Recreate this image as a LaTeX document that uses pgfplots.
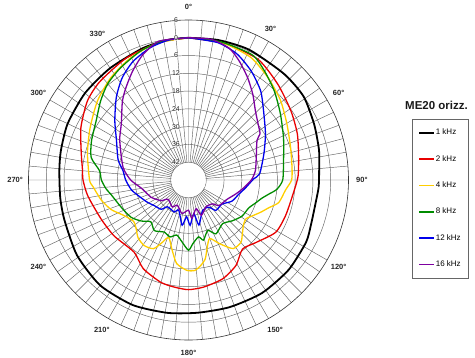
\documentclass[border=0pt]{standalone}
\usepackage{fontspec}
\setmainfont{Liberation Sans}
\usepackage{pgfplots}
\pgfplotsset{compat=1.18}
\usepgfplotslibrary{polar}
\usepackage{pgfplotstable}
\definecolor{cBlack}{RGB}{0,0,0}
\definecolor{cRed}{RGB}{232,0,0}
\definecolor{cYellow}{RGB}{255,206,0}
\definecolor{cGreen}{RGB}{0,140,0}
\definecolor{cBlue}{RGB}{0,0,235}
\definecolor{cPurple}{RGB}{125,0,160}
\begin{document}
\pgfplotstableread[row sep=\\]{
a db\\
0 0\\ 12 0.3\\ 25 0.5\\ 42 0.2\\ 54 0\\ 66 -1.6\\ 77 -2.8\\ 86 -3.8\\ 93 -4.0\\ 100 -4.4\\
110 -4.0\\ 118 -3.1\\ 132 -2.6\\ 147 -2.5\\ 162 -2.9\\ 176 -3.1\\ 189 -2.6\\ 204 -1.8\\
220 -1.6\\ 236 -2.6\\ 252 -4.0\\ 262 -4.3\\ 274 -4.3\\ 283 -3.8\\ 295 -3.0\\ 310 -2.4\\
325 -1.9\\ 341 -0.9\\ 352 -0.2\\ 360 0\\
}\tblack
\pgfplotstableread[row sep=\\]{
a db\\
0 0\\ 15 -0.3\\ 30 -1.0\\ 43 -3.8\\ 56 -6.3\\ 67 -8.1\\ 78 -10.0\\ 88 -11.0\\ 96 -12.2\\
110 -13.1\\ 121 -13.7\\ 133 -17.0\\ 142 -18.4\\ 151 -15.0\\ 161 -12.7\\ 172 -11.5\\
180 -11.0\\ 187 -11.5\\ 195 -12.2\\ 207 -14.4\\ 217 -17.5\\ 233 -16.6\\ 246 -15.7\\
261 -13.6\\ 270 -12.4\\ 276 -12.0\\ 284 -10.7\\ 296 -7.6\\ 308 -4.7\\ 318 -3.3\\
333 -1.8\\ 348 -0.5\\ 360 0\\
}\tred
\pgfplotstableread[row sep=\\]{
a db\\
0 0\\ 14 -0.3\\ 27 -1.6\\ 38 -4.3\\ 49 -6.9\\ 60 -9.7\\ 72 -11.8\\ 83 -12.8\\ 90 -13.2\\
96 -15.1\\ 104 -16.6\\ 109 -19.3\\ 114 -21.3\\ 120 -23.5\\ 124 -24.6\\ 129 -24.1\\
135 -22.3\\ 140 -20.5\\ 147 -20.4\\ 154 -24.1\\ 160 -27.0\\ 164 -24.8\\ 168 -20.8\\
172 -18.8\\ 176 -17.4\\ 181 -17.5\\ 188 -19.5\\ 193 -23.6\\ 199 -27.5\\ 203 -25.0\\
207 -22.0\\ 214 -21.3\\ 221 -22.1\\ 228 -24.1\\ 233 -24.8\\ 241 -23.2\\ 249 -20.1\\
257 -17.8\\ 266 -15.7\\ 270 -14.6\\ 285 -12.7\\ 298 -10.4\\ 311 -7.3\\ 323 -4.6\\
335 -2.3\\ 347 -0.6\\ 360 0\\
}\tyellow
\pgfplotstableread[row sep=\\]{
a db\\
0 0\\ 13 -0.1\\ 27 -0.6\\ 35 -3.2\\ 44 -6.3\\ 54 -9.7\\ 66 -12.9\\ 78 -15.2\\ 90 -16.2\\
96 -18.0\\ 100 -20.5\\ 104 -22.5\\ 109 -24.1\\ 115 -25.6\\ 124 -26.2\\ 133 -27.8\\
142 -29.3\\ 153 -27.6\\ 159 -29.8\\ 166 -27.1\\ 170 -28.5\\ 176 -26.5\\ 180 -24.3\\
186 -27.0\\ 192 -29.0\\ 198 -27.8\\ 205 -28.6\\ 214 -27.4\\ 222 -29.0\\ 229 -26.9\\
237 -24.9\\ 248 -23.5\\ 259 -21.5\\ 264 -20.0\\ 270 -18.6\\ 276 -17.8\\ 283 -14.3\\
292 -12.7\\ 303 -10.9\\ 312 -8.1\\ 320 -5.6\\ 329 -3.7\\ 340 -1.5\\ 350 -0.3\\ 360 0\\
}\tgreen
\pgfplotstableread[row sep=\\]{
a db\\
0 0\\ 12 -0.6\\ 21 -2.4\\ 30 -5.6\\ 39 -9.3\\ 47 -13.4\\ 59 -17.7\\ 71 -21.1\\ 85 -23.9\\
89 -26.0\\ 98 -28.6\\ 106 -30.4\\ 116 -31.7\\ 126 -34.1\\ 138 -34.2\\ 143 -36.5\\
155 -36.7\\ 167 -32.4\\ 171 -36.5\\ 178 -32.7\\ 183 -35.6\\ 188 -32.6\\ 198 -37.3\\
204 -36.2\\ 218 -36.5\\ 223 -34.5\\ 233 -33.6\\ 241 -32.3\\ 249 -31.0\\ 260 -28.5\\
270 -26.8\\ 278 -25.7\\ 286 -23.3\\ 299 -20.2\\ 309 -16.0\\ 319 -10.9\\ 327 -6.9\\
335 -3.8\\ 344 -1.5\\ 352 -0.3\\ 360 0\\
}\tblue
\pgfplotstableread[row sep=\\]{
a db\\
0 0\\ 9 0.1\\ 17 -1.4\\ 23 -4.3\\ 30 -8.1\\ 37 -11.9\\ 44 -15.5\\ 53 -18.3\\ 57 -19.2\\
60 -21.3\\ 71 -23.8\\ 82 -25.2\\ 90 -26.8\\ 100 -29.7\\ 107 -31.5\\ 117 -33.5\\
130 -34.6\\ 135 -36.6\\ 147 -37.2\\ 160 -35.3\\ 165 -38.0\\ 175 -35.0\\ 180 -37.8\\
191 -36.5\\ 204 -38.7\\ 211 -37.4\\ 227 -38.5\\ 233 -36.4\\ 245 -34.1\\ 250 -33.5\\
260 -31.9\\ 270 -28.5\\ 281 -25.5\\ 300 -21.2\\ 310 -18.4\\ 320 -13.3\\ 326 -10.3\\
333 -6.6\\ 340 -3.0\\ 348 -0.1\\ 360 0\\
}\tpurple
\begin{tikzpicture}
\begin{polaraxis}[
  at={(188.5pt,177pt)}, anchor=center,
  scale only axis, width=320pt, height=320pt,
  xmin=0, xmax=360, ymin=0, ymax=54,
  xtick={0,30,...,330}, minor x tick num=5,
  ytick={6,12,...,48},
  xticklabels={}, yticklabels={},
  major tick length=0pt, minor tick length=0pt,
  grid=both,
  major grid style={black!62, line width=0.45pt},
  minor grid style={black!62, line width=0.45pt},
  x axis line style={black!80, line width=0.6pt},
  y axis line style={draw=none},
  clip=false,
  legend style={at={(axis cs:15.27,78.2)}, anchor=north west, draw=black!60,
    font=\fontsize{8}{9}\selectfont, row sep=17pt,
    inner xsep=6pt, inner ysep=9pt, nodes={inner sep=1pt}},
  legend cell align=left,
  legend image code/.code={\draw[#1, line width=1.6pt] (0pt,0pt) -- (15pt,0pt);},
]
\fill[white] (axis cs:0,0) circle[radius=17.3pt];
\addplot[cBlack, line width=1.8pt, smooth, tension=0.4] table[x expr=90-\thisrow{a}, y expr=\thisrow{db}+48]{\tblack};
\addlegendentry{1 kHz}
\addplot[cRed, line width=1.3pt, smooth, tension=0.4] table[x expr=90-\thisrow{a}, y expr=\thisrow{db}+48]{\tred};
\addlegendentry{2 kHz}
\addplot[cYellow, line width=1.3pt, smooth, tension=0.4] table[x expr=90-\thisrow{a}, y expr=\thisrow{db}+48]{\tyellow};
\addlegendentry{4 kHz}
\addplot[cGreen, line width=1.3pt, smooth, tension=0.4] table[x expr=90-\thisrow{a}, y expr=\thisrow{db}+48]{\tgreen};
\addlegendentry{8 kHz}
\addplot[cBlue, line width=1.3pt, smooth, tension=0.4] table[x expr=90-\thisrow{a}, y expr=\thisrow{db}+48]{\tblue};
\addlegendentry{12 kHz}
\addplot[cPurple, line width=1.3pt, smooth, tension=0.4] table[x expr=90-\thisrow{a}, y expr=\thisrow{db}+48]{\tpurple};
\addlegendentry{16 kHz}
% angle labels
\begin{scope}[every node/.style={font=\bfseries\fontsize{7.5}{9}\selectfont, text=black!85, anchor=center}]
\node at (axis cs:90,58.5) {0°};
\node at (axis cs:61.5,58) {30°};
\node at (axis cs:30,58.5) {60°};
\node at (axis cs:0,58.5) {90°};
\node at (axis cs:-30,58.5) {120°};
\node at (axis cs:-60,58.5) {150°};
\node at (axis cs:-90,58.5) {180°};
\node at (axis cs:-120,58.5) {210°};
\node at (axis cs:-150,58.5) {240°};
\node at (axis cs:-180,58.5) {270°};
\node at (axis cs:-210,58.5) {300°};
\node at (axis cs:-238,58) {330°};
\end{scope}
% radial labels
\begin{scope}[every node/.style={font=\fontsize{7}{8}\selectfont, text=black!85, anchor=center, xshift=-12.5pt, inner sep=0.4pt, fill=white, fill opacity=0.6, text opacity=1}]
\node at (axis cs:90,54) {6};
\node at (axis cs:90,48) {0};
\node at (axis cs:90,42) {6};
\node at (axis cs:90,36) {12};
\node at (axis cs:90,30) {18};
\node at (axis cs:90,24) {24};
\node at (axis cs:90,18) {30};
\node at (axis cs:90,12) {36};
\node at (axis cs:90,6) {42};
\end{scope}
\end{polaraxis}
\node[font=\bfseries\fontsize{11.5}{13}\selectfont, text=black!90] at (436.5pt,252pt) {ME20 orizz.};
\pgfresetboundingbox
\path (0pt,0pt) rectangle (475pt,357pt);
\end{tikzpicture}
\end{document}
